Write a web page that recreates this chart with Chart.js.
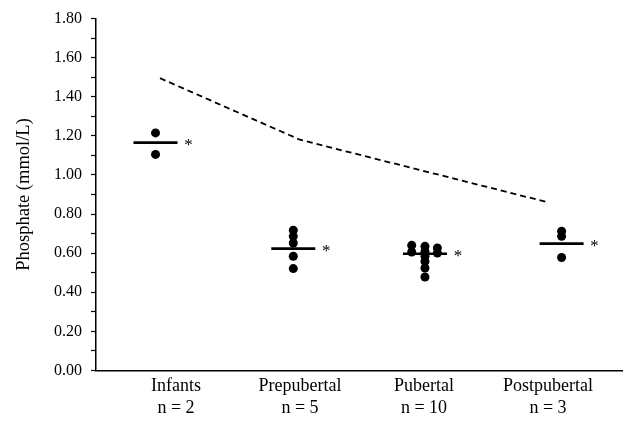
<!DOCTYPE html>
<html>
<head>
<meta charset="utf-8">
<script src="https://cdn.jsdelivr.net/npm/chart.js@4"></script>
<style>
html,body{margin:0;padding:0;background:#fff;}
#c{display:block;}
</style>
</head>
<body>
<canvas id="c" width="627" height="426"></canvas>
<script>
// ---- data ----
const categories = ['Infants', 'Prepubertal', 'Pubertal', 'Postpubertal'];
const nCounts = [2, 5, 10, 3];
const infants = [1.215, 1.105];
const prepubertal = [0.717, 0.686, 0.652, 0.584, 0.521];
const pubertal = [0.640, 0.606, 0.635, 0.609, 0.584, 0.558, 0.524, 0.478, 0.627, 0.601];
const postpubertal = [0.712, 0.686, 0.578];
const means = [1.165, 0.623, 0.597, 0.649];
const refUpper = [1.495, 1.18, 1.02, 0.86];

// ---- layout (axis units) ----
const groupCenter = [0.835, 1.946, 3.008, 4.11];
const refX = [0.871, 2, 3, 4];
const pubertalJitter = [-0.107, -0.107, 0, 0, 0, 0, 0, 0, 0.1, 0.1];

const groups = [infants, prepubertal, pubertal, postpubertal];
const dotPoints = [];
groups.forEach((vals, gi) => {
  vals.forEach((v, k) => {
    const j = gi === 2 ? pubertalJitter[k] : 0;
    dotPoints.push({x: groupCenter[gi] + j, y: v});
  });
});
const meanPoints = means.map((m, i) => ({x: groupCenter[i], y: m}));
const refPoints = refUpper.map((v, i) => ({x: refX[i], y: v}));

const FONT = "'Liberation Serif', 'Times New Roman', serif";

const starPlugin = {
  id: 'stars',
  afterDatasetsDraw(chart) {
    const {ctx, scales: {x, y}} = chart;
    ctx.save();
    ctx.fillStyle = '#000';
    ctx.font = '17px ' + FONT;
    ctx.textAlign = 'center';
    ctx.textBaseline = 'middle';
    means.forEach((m, i) => {
      const px = x.getPixelForValue(groupCenter[i]) + 33;
      const py = y.getPixelForValue(m) + 3;
      ctx.fillText('*', px, py);
    });
    ctx.restore();
  }
};

new Chart(document.getElementById('c'), {
  type: 'scatter',
  data: {
    datasets: [
      {
        data: refPoints, showLine: true, borderColor: '#000', borderWidth: 1.8,
        borderDash: [6, 4], pointRadius: 0, fill: false
      },
      {
        data: meanPoints, pointStyle: 'line', pointRadius: 22, borderColor: '#000',
        borderWidth: 2.7, backgroundColor: '#000'
      },
      {
        data: dotPoints, pointRadius: 4.5, backgroundColor: '#000', borderWidth: 0
      }
    ]
  },
  options: {
    responsive: false,
    animation: false,
    events: [],
    layout: {autoPadding: false, padding: {top: 18.5, right: 5, left: 0, bottom: 0}},
    plugins: {legend: {display: false}, tooltip: {enabled: false}},
    scales: {
      x: {
        type: 'linear', min: 0.355, max: 4.597,
        afterBuildTicks: (s) => { s.ticks = [1, 2, 3, 4].map(v => ({value: v})); },
        afterFit: (s) => { s.height = 55.5; s.paddingLeft = 0; s.paddingRight = 0; },
        grid: {display: false},
        border: {display: true, color: '#000', width: 1.5},
        ticks: {
          autoSkip: false, maxRotation: 0, padding: -3, color: '#000',
          font: {family: FONT, size: 18, lineHeight: 1.22},
          callback: (v) => [categories[v - 1], 'n = ' + nCounts[v - 1]]
        }
      },
      y: {
        min: 0, max: 1.8,
        afterFit: (s) => { s.width = 96; s.paddingTop = 0; s.paddingBottom = 0; },
        grid: {display: true, drawOnChartArea: false, drawTicks: true, tickLength: 5, tickColor: '#000', tickWidth: 1.2},
        border: {display: true, color: '#000', width: 1.5},
        ticks: {
          stepSize: 0.1, autoSkip: false, padding: 9, color: '#000',
          font: {family: FONT, size: 16},
          callback: (v) => (Math.round(v * 10) % 2 === 0 ? v.toFixed(2) : '')
        },
        title: {
          display: true, text: 'Phosphate (mmol/L)', color: '#000',
          font: {family: FONT, size: 18.5}, padding: {top: 13, bottom: 0}
        }
      }
    }
  },
  plugins: [starPlugin]
});
</script>
</body>
</html>
